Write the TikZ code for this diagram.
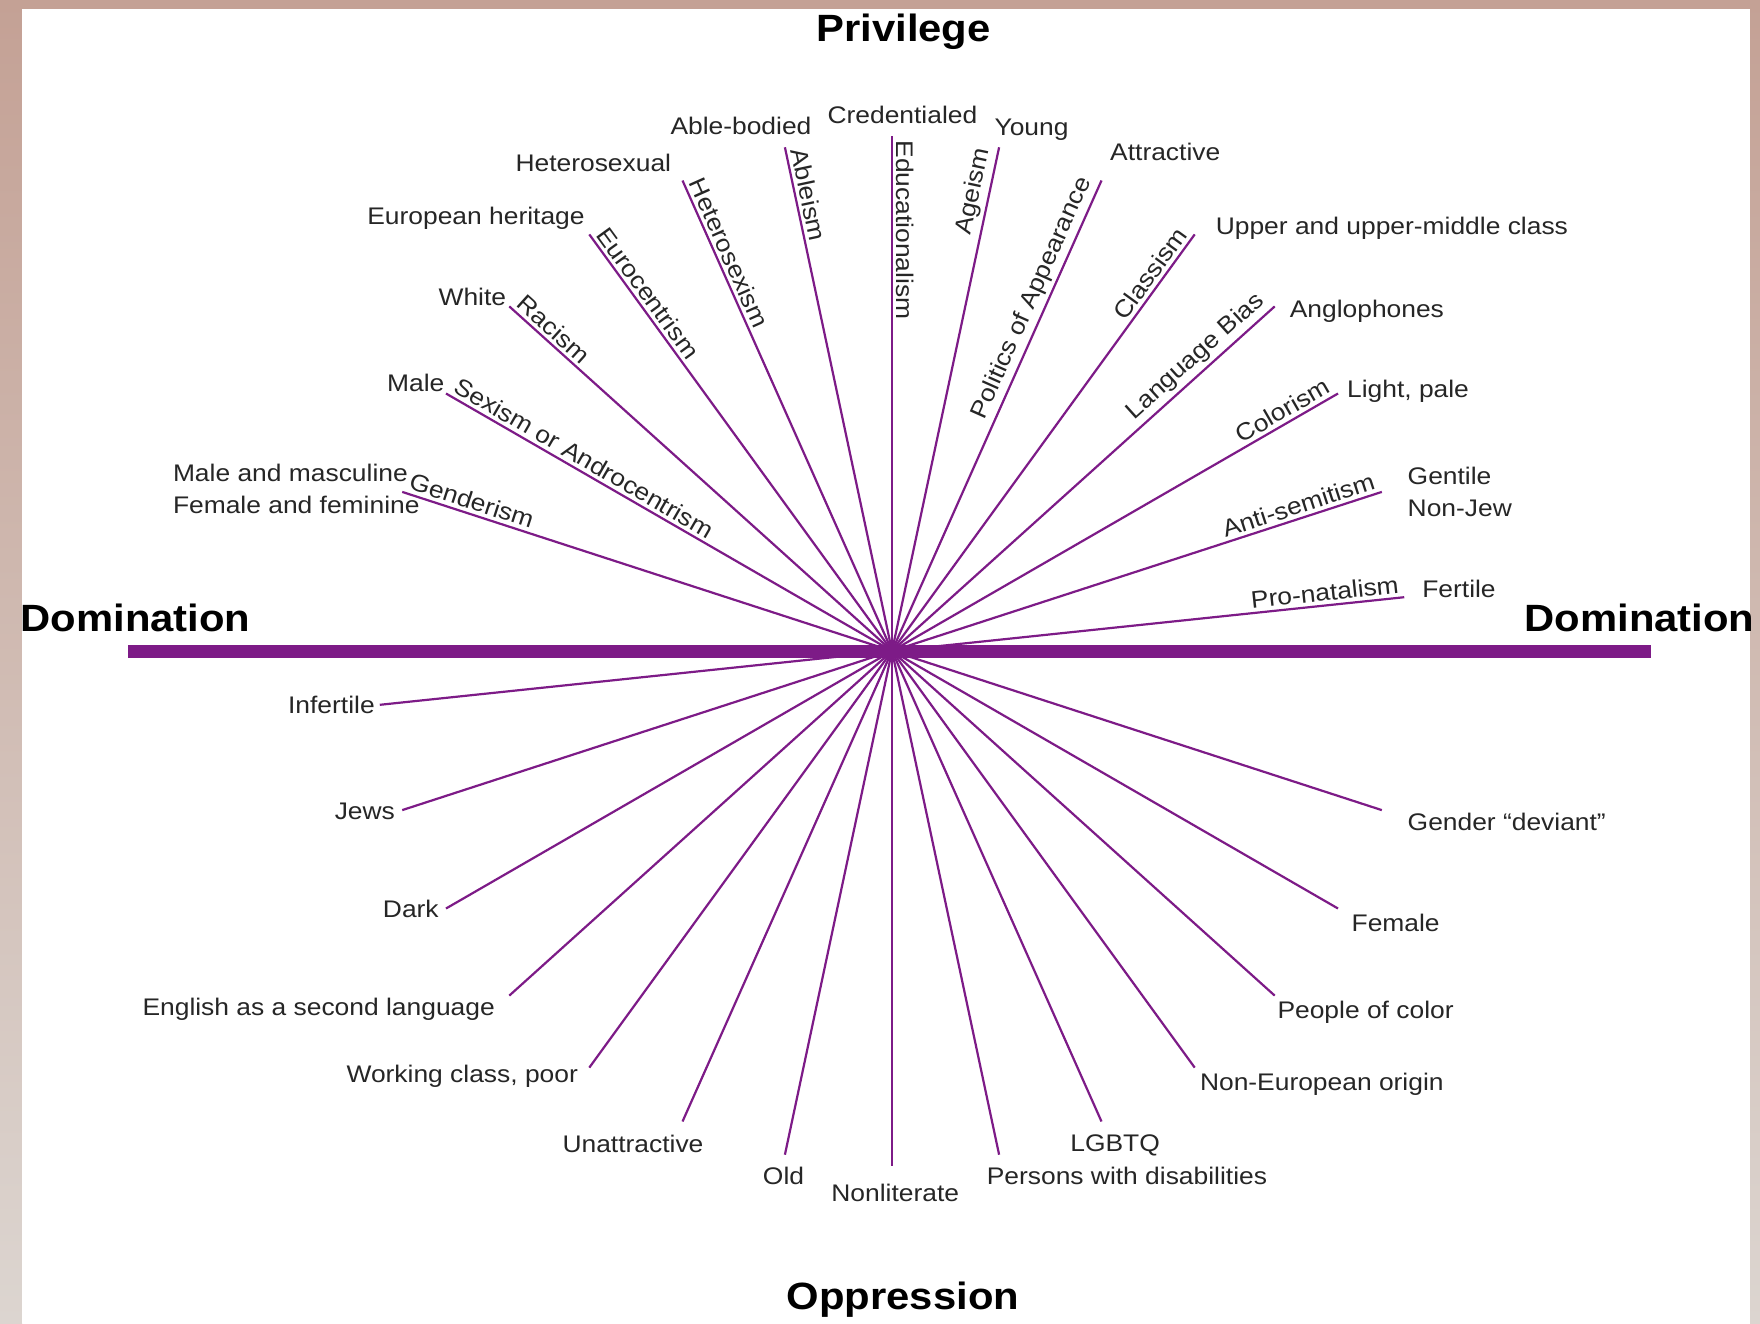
\documentclass[tikz,border=0pt]{standalone}
\usepackage{fontspec}
\setmainfont{Liberation Sans}[FakeStretch=1.1]
\definecolor{spoke}{RGB}{125,27,135}
\definecolor{frame}{RGB}{196,161,149}
\definecolor{framelow}{RGB}{220,213,208}
\tikzset{
  lbl/.style={font=\fontsize{12}{16.25}\selectfont, text=black!85, inner sep=1pt},
  spin/.style={lbl, inner sep=2pt},
  head/.style={font=\fontsize{19}{23}\selectfont\bfseries, inner sep=0pt},
  ray/.style={draw=spoke, line width=1.1pt},
}
\begin{document}
\begin{tikzpicture}[x=0.5pt,y=0.5pt,yscale=-1,xscale=1]
\useasboundingbox (0,0) rectangle (1760,1323);

%Frame
\fill[frame] (0,0) rectangle (1760,1323);
\shade[top color=frame, bottom color=framelow] (0,0) rectangle (22,1323);
\shade[top color=frame, bottom color=framelow] (1750,0) rectangle (1760,1323);
\fill[white] (22,9) rectangle (1750,1323);

%Centre and spoke ends
\coordinate (c) at (892,651);
\coordinate (ePronat) at (1404.2,597.2);
\coordinate (eAntisem) at (1381.8,491.9);
\coordinate (eColor) at (1338.0,393.5);
\coordinate (eLang) at (1274.7,306.4);
\coordinate (eClass) at (1194.7,234.4);
\coordinate (ePolit) at (1101.5,180.5);
\coordinate (eAge) at (999.1,147.3);
\coordinate (eEduc) at (892,136);
\coordinate (eAble) at (784.9,147.3);
\coordinate (eHetero) at (682.5,180.5);
\coordinate (eEuro) at (589.3,234.4);
\coordinate (eRace) at (509.3,306.4);
\coordinate (eSex) at (446.0,393.5);
\coordinate (eGender) at (402.2,491.9);
\coordinate (eInfert) at (379.8,704.8);
\coordinate (eJews) at (402.2,810.1);
\coordinate (eDark) at (446.0,908.5);
\coordinate (eEsl) at (509.3,995.6);
\coordinate (eWork) at (589.3,1067.6);
\coordinate (eUnattr) at (682.5,1121.5);
\coordinate (eOld) at (784.9,1154.7);
\coordinate (eNonlit) at (892,1166);
\coordinate (eDisab) at (999.1,1154.7);
\coordinate (eLgbtq) at (1101.5,1121.5);
\coordinate (eNoneuro) at (1194.7,1067.6);
\coordinate (ePoc) at (1274.7,995.6);
\coordinate (eFemale) at (1338.0,908.5);
\coordinate (eDeviant) at (1381.8,810.1);

%Domination bar
\coordinate (barL) at (128,651);
\coordinate (barR) at (1651,651);
\draw [draw=spoke, line width=6.5pt] (barL) -- (barR);

%Spokes
\draw [ray] (ePronat) -- (eInfert);
\draw [ray] (eAntisem) -- (eJews);
\draw [ray] (eColor) -- (eDark);
\draw [ray] (eLang) -- (eEsl);
\draw [ray] (eClass) -- (eWork);
\draw [ray] (ePolit) -- (eUnattr);
\draw [ray] (eAge) -- (eOld);
\draw [ray] (eEduc) -- (eNonlit);
\draw [ray] (eAble) -- (eDisab);
\draw [ray] (eHetero) -- (eLgbtq);
\draw [ray] (eEuro) -- (eNoneuro);
\draw [ray] (eRace) -- (ePoc);
\draw [ray] (eSex) -- (eFemale);
\draw [ray] (eGender) -- (eDeviant);

%Names of the isms
\node [spin, anchor=south west, rotate=-18] (tGender) at (eGender) {Genderism};
\node [spin, anchor=south west, rotate=-30] (tSex) at (eSex) {Sexism or Androcentrism};
\node [spin, anchor=south west, rotate=-42] (tRace) at (eRace) {Racism};
\node [spin, anchor=south west, rotate=-54] (tEuro) at (eEuro) {Eurocentrism};
\node [spin, anchor=south west, rotate=-66] (tHetero) at (eHetero) {Heterosexism};
\node [spin, anchor=south west, rotate=-78] (tAble) at (eAble) {Ableism};
\node [spin, anchor=south west, rotate=-90] (tEduc) at (eEduc) {Educationalism};
\node [spin, anchor=south east, rotate=78] (tAge) at (eAge) {Ageism};
\node [spin, anchor=south east, rotate=66] (tPolit) at (ePolit) {Politics of Appearance};
\node [spin, anchor=south east, rotate=54] (tClass) at (eClass) {Classism};
\node [spin, anchor=south east, rotate=42] (tLang) at (eLang) {Language Bias};
\node [spin, anchor=south east, rotate=30] (tColor) at (eColor) {Colorism};
\node [spin, anchor=south east, rotate=18] (tAntisem) at (eAntisem) {Anti-semitism};
\node [spin, anchor=south east, rotate=6] (tPronat) at (ePronat) {Pro-natalism};

%Privileged groups
\node [lbl, anchor=west, align=left] (lMasc) at (170.6,489) {Male and masculine\\Female and feminine};
\node [lbl, anchor=base east] (lMale) at (446.7,391) {Male};
\node [lbl, anchor=base east] (lWhite) at (508.5,305) {White};
\node [lbl, anchor=base east] (lEuro) at (587,224) {European heritage};
\node [lbl, anchor=base east] (lHetero) at (673.5,171) {Heterosexual};
\node [lbl, anchor=base east] (lAble) at (813.8,134) {Able-bodied};
\node [lbl, anchor=base] (lCred) at (902.4,123) {Credentialed};
\node [lbl, anchor=base] (lYoung) at (1031.5,135) {Young};
\node [lbl, anchor=base west] (lAttr) at (1107.8,160) {Attractive};
\node [lbl, anchor=base west] (lUpper) at (1213.4,234) {Upper and upper-middle class};
\node [lbl, anchor=base west] (lAnglo) at (1287.4,317) {Anglophones};
\node [lbl, anchor=base west] (lLight) at (1344.7,397) {Light, pale};
\node [lbl, anchor=west, align=left] (lGentile) at (1405.3,492) {Gentile\\Non-Jew};
\node [lbl, anchor=base west] (lFertile) at (1419.9,597) {Fertile};

%Oppressed groups
\node [lbl, anchor=base east] (lInfert) at (377.1,713.4) {Infertile};
\node [lbl, anchor=base east] (lJews) at (397.3,819) {Jews};
\node [lbl, anchor=base east] (lDark) at (441.1,917.7) {Dark};
\node [lbl, anchor=base east] (lEsl) at (497.2,1015.3) {English as a second language};
\node [lbl, anchor=base east] (lWork) at (580.3,1082.7) {Working class, poor};
\node [lbl, anchor=base] (lUnattr) at (633,1152.3) {Unattractive};
\node [lbl, anchor=base] (lOld) at (783.5,1184.8) {Old};
\node [lbl, anchor=base] (lNonlit) at (895.2,1201.7) {Nonliterate};
\node [lbl, anchor=base] (lLgbtq) at (1115.1,1151) {LGBTQ};
\node [lbl, anchor=base west] (lDisab) at (984.4,1184.8) {Persons with disabilities};
\node [lbl, anchor=base west] (lNoneuro) at (1197.6,1090.5) {Non-European origin};
\node [lbl, anchor=base west] (lPoc) at (1275.1,1018.7) {People of color};
\node [lbl, anchor=base west] (lFemale) at (1349.2,931) {Female};
\node [lbl, anchor=base west] (lDeviant) at (1405.3,830) {Gender “deviant”};

%Headings
\node [head, anchor=base] (privilege) at (903.6,41) {Privilege};
\node [head, anchor=base west] (dominationL) at (20.2,631) {Domination};
\node [head, anchor=base west] (dominationR) at (1524.2,631) {Domination};
\node [head, anchor=base] (oppression) at (903,1309) {Oppression};

\end{tikzpicture}
\end{document}
